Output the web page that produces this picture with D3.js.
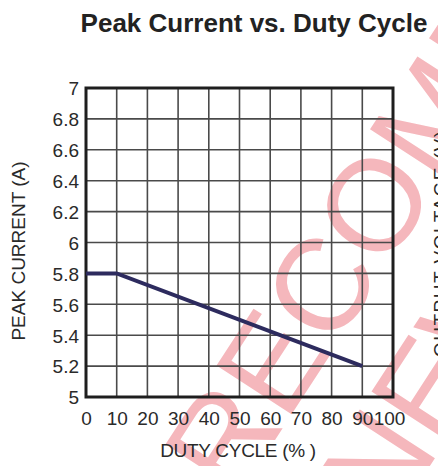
<!DOCTYPE html>
<html>
<head>
<meta charset="utf-8">
<script src="https://cdn.jsdelivr.net/npm/d3@7"></script>
<style>
  html, body { margin: 0; padding: 0; background: #fff; }
  svg { display: block; font-family: "Liberation Sans", Arial, Helvetica, sans-serif; }
</style>
</head>
<body>
<script>
// ---- data ----
const dutyCycle = [0, 10, 90];
const peakCurrent = [5.8, 5.8, 5.2];
const xTicks = [0, 10, 20, 30, 40, 50, 60, 70, 80, 90, 100];
const yTicks = [5, 5.2, 5.4, 5.6, 5.8, 6, 6.2, 6.4, 6.6, 6.8, 7];
const yTickLabels = ["5", "5.2", "5.4", "5.6", "5.8", "6", "6.2", "6.4", "6.6", "6.8", "7"];
const chartTitle = "Peak Current vs. Duty Cycle";
const xTitle = "DUTY CYCLE (% )";
const yTitle = "PEAK CURRENT (A)";
const rightTitle = "OUTPUT VOLTAGE (V)";
const watermarkLines = ["NOT RECOMMENDED", "FOR NEW DESIGNS"];

const W = 438, H = 466;
const m = { left: 86, right: 393, top: 88, bottom: 397 };

const svg = d3.select("body").append("svg").attr("width", W).attr("height", H);

const x = d3.scaleLinear().domain([0, 100]).range([m.left, m.right]);
const y = d3.scaleLinear().domain([5, 7]).range([m.bottom, m.top]);

// watermark (behind everything)
const wm = svg.append("g")
  .attr("transform", "translate(436,192) rotate(-57)")
  .attr("fill", "#f5b7bc");
wm.selectAll("text").data(watermarkLines).join("text")
  .attr("x", 0).attr("y", (d, i) => i * 144)
  .attr("text-anchor", "middle")
  .attr("font-size", 130)
  .text(d => d);

// grid
const grid = svg.append("g").attr("stroke", "#4a4a4a").attr("stroke-width", 1.6);
grid.selectAll("line.v").data(xTicks).join("line").attr("class", "v")
  .attr("x1", d => x(d)).attr("x2", d => x(d))
  .attr("y1", y(5)).attr("y2", y(7));
grid.selectAll("line.h").data(yTicks).join("line").attr("class", "h")
  .attr("x1", x(0)).attr("x2", x(100))
  .attr("y1", d => y(d)).attr("y2", d => y(d));

// frame
svg.append("rect")
  .attr("x", x(0)).attr("y", y(7))
  .attr("width", x(100) - x(0)).attr("height", y(5) - y(7))
  .attr("fill", "none").attr("stroke", "#1e1e1e").attr("stroke-width", 3);

// axes labels via d3 axes
const xAxis = d3.axisBottom(x).tickValues(xTicks).tickSize(0).tickPadding(0).tickFormat(d3.format("d"));
const gx = svg.append("g").attr("transform", `translate(0,${y(5)})`).call(xAxis);
gx.select(".domain").remove();
gx.selectAll("text").attr("font-size", 19).attr("fill", "#2a2a2a")
  .attr("font-family", "Liberation Sans, Arial, sans-serif")
  .attr("dy", null).attr("y", 28)
  .attr("dx", d => d === 100 ? -4 : 0);

const yAxis = d3.axisLeft(y).tickValues(yTicks).tickSize(0).tickPadding(0)
  .tickFormat((d, i) => yTickLabels[i]);
const gy = svg.append("g").attr("transform", `translate(${x(0) - 7},0)`).call(yAxis);
gy.select(".domain").remove();
gy.selectAll("text").attr("font-size", 19).attr("fill", "#2a2a2a")
  .attr("font-family", "Liberation Sans, Arial, sans-serif")
  .attr("x", 0).attr("dy", "0.36em");

// data line
const line = d3.line().x((d, i) => x(dutyCycle[i])).y(d => y(d));
svg.append("path").datum(peakCurrent)
  .attr("d", line)
  .attr("fill", "none").attr("stroke", "#2d2b5e").attr("stroke-width", 4);

// titles
svg.append("text").attr("x", 254).attr("y", 32).attr("text-anchor", "middle")
  .attr("font-size", 26).attr("font-weight", "bold").attr("fill", "#222")
  .text(chartTitle);

svg.append("text").attr("x", 238).attr("y", 457).attr("text-anchor", "middle")
  .attr("font-size", 19).attr("fill", "#2a2a2a").attr("letter-spacing", -0.3)
  .text(xTitle);

svg.append("text").attr("transform", "translate(25,251) rotate(-90)")
  .attr("text-anchor", "middle").attr("font-size", 19).attr("fill", "#2a2a2a")
  .text(yTitle);

svg.append("text").attr("transform", "translate(447,357) rotate(-90)")
  .attr("text-anchor", "start").attr("font-size", 19).attr("fill", "#2a2a2a")
  .attr("letter-spacing", 1.5)
  .text(rightTitle);
</script>
</body>
</html>
